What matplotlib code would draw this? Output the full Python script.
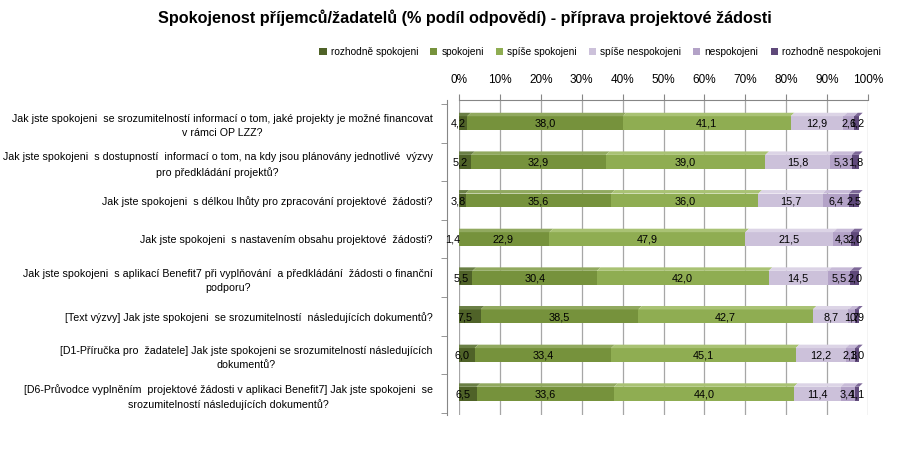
import matplotlib
matplotlib.use("Agg")
import matplotlib.pyplot as plt
import matplotlib.transforms as mtransforms
from matplotlib.patches import Polygon
import numpy as np

plt.rcParams["font.family"] = ["Liberation Sans", "DejaVu Sans"]

# otázky (shora dolů)
questions = [
    "Jak jste spokojeni  se srozumitelností informací o tom, jaké projekty je možné financovat\nv rámci OP LZZ?",
    "Jak jste spokojeni  s dostupností  informací o tom, na kdy jsou plánovány jednotlivé  výzvy\npro předkládání projektů?",
    "Jak jste spokojeni  s délkou lhůty pro zpracování projektové  žádosti?",
    "Jak jste spokojeni  s nastavením obsahu projektové  žádosti?",
    "Jak jste spokojeni  s aplikací Benefit7 při vyplňování  a předkládání  žádosti o finanční\npodporu?",
    "[Text výzvy] Jak jste spokojeni  se srozumitelností  následujících dokumentů?",
    "[D1-Příručka pro  žadatele] Jak jste spokojeni se srozumitelností následujících\ndokumentů?",
    "[D6-Průvodce vyplněním  projektové žádosti v aplikaci Benefit7] Jak jste spokojeni  se\nsrozumitelností následujících dokumentů?",
]

categories = ["rozhodně spokojeni", "spokojeni", "spíše spokojeni",
              "spíše nespokojeni", "nespokojeni", "rozhodně nespokojeni"]

rozhodne_spokojeni = [4.2, 5.2, 3.8, 1.4, 5.5, 7.5, 6.0, 6.5]
spokojeni = [38.0, 32.9, 35.6, 22.9, 30.4, 38.5, 33.4, 33.6]
spise_spokojeni = [41.1, 39.0, 36.0, 47.9, 42.0, 42.7, 45.1, 44.0]
spise_nespokojeni = [12.9, 15.8, 15.7, 21.5, 14.5, 8.7, 12.2, 11.4]
nespokojeni = [2.6, 5.3, 6.4, 4.3, 5.5, 1.7, 2.3, 3.4]
rozhodne_nespokojeni = [1.2, 1.8, 2.5, 2.0, 2.0, 0.9, 1.0, 1.1]

series = [rozhodne_spokojeni, spokojeni, spise_spokojeni,
          spise_nespokojeni, nespokojeni, rozhodne_nespokojeni]

colors = ["#4F6228", "#76923C", "#8FAD52", "#CCC1DA", "#B3A2C7", "#5F497A"]
top_colors = ["#6A7F45", "#91A95F", "#A9C274", "#DCD4E6", "#C8BBD8", "#7D6898"]

fig = plt.figure(figsize=(8.98, 4.5), dpi=100)
ax = fig.add_axes([459 / 898, 1 - 415 / 450, 409 / 898, 315 / 450])

# spiny nejdřív – set_position resetuje ticky
for s in ["right", "bottom"]:
    ax.spines[s].set_visible(False)
ax.spines["top"].set_color("#868686")
ax.spines["left"].set_color("#868686")
ax.spines["left"].set_position(("outward", 9))

# přední stěna sloupců je posunutá doleva proti zadní stěně (3D efekt)
shift = mtransforms.ScaledTranslation(-9 / 100, 0, fig.dpi_scale_trans)
front = ax.transData + shift

y = np.arange(len(questions))
h = 0.36
depth = 0.09
dx = 0.9

left = np.zeros(len(questions))
for vals, col, tcol, name in zip(series, colors, top_colors, categories):
    vals = np.array(vals)
    ax.barh(y, vals, left=left, height=h, color=col, edgecolor="none",
            transform=front, zorder=3, label=name)
    for yi, l, v in zip(y, left, vals):
        top = yi - h / 2
        poly = Polygon([(l, top), (l + v, top), (l + v + dx, top - depth), (l + dx, top - depth)],
                       closed=True, facecolor=tcol, edgecolor="none", transform=front, zorder=3)
        ax.add_patch(poly)
        ax.text(l + v / 2, yi + 0.02, f"{v:.1f}".replace(".", ","), ha="center", va="center",
                fontsize=7.8, color="black", transform=front, zorder=4)
    left += vals

ax.set_xlim(0, 100)
ax.set_ylim(len(questions) - 0.45, -0.6)

ax.xaxis.tick_top()
ax.set_xticks(np.arange(0, 101, 10))
ax.set_xticklabels([f"{t}%" for t in range(0, 101, 10)], fontsize=8.5)
ax.tick_params(axis="x", direction="out", length=4, color="#868686", pad=6)
ax.grid(axis="x", color="#A6A6A6", linewidth=0.9, zorder=0)

ax.set_yticks(y)
ax.set_yticklabels(questions, fontsize=7.7, multialignment="center", linespacing=1.5)
ax.set_yticks(np.arange(-0.5, len(questions), 1), minor=True)
ax.tick_params(axis="y", which="major", length=0, pad=10)
ax.tick_params(axis="y", which="minor", length=4, color="#868686", direction="out")

fig.text(0.518, 1 - 18 / 450,
         "Spokojenost příjemců/žadatelů (% podíl odpovědí) - příprava projektové žádosti",
         ha="center", va="center", fontsize=11.7, fontweight="bold")

fig.legend(loc="center", bbox_to_anchor=(600 / 898, 1 - 52 / 450), ncol=6, frameon=False,
           fontsize=7.3, handlelength=0.7, handleheight=0.7, handletextpad=0.4,
           columnspacing=1.2)

fig.savefig("out.png", dpi=100)
